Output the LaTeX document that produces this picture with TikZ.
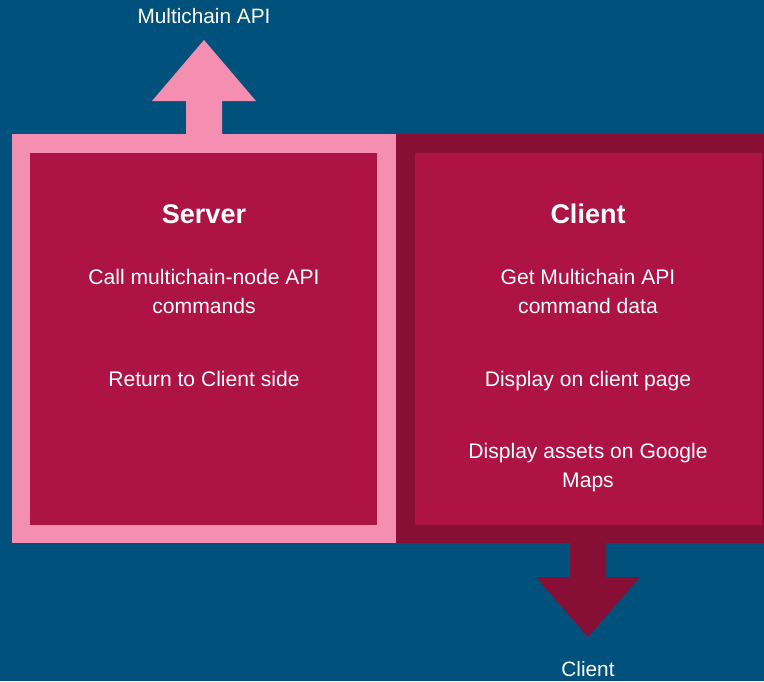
\documentclass[tikz,border=0pt]{standalone}
\usepackage{fontspec}
\setmainfont{Liberation Sans}
\definecolor{bgblue}{RGB}{0,82,124}
\definecolor{lightpink}{RGB}{244,143,177}
\definecolor{midpink}{RGB}{173,19,69}
\definecolor{darkpink}{RGB}{135,14,52}
\tikzset{
  body/.style={text=white, font=\fontsize{21.1}{24}\selectfont, anchor=base, inner sep=0pt},
  title/.style={text=white, font=\fontsize{27}{32}\bfseries\selectfont, anchor=base, inner sep=0pt},
  label/.style={text=white, font=\fontsize{20.8}{24}\selectfont, anchor=base, inner sep=0pt},
}
\begin{document}
\begin{tikzpicture}[x=1pt,y=-1pt]
\fill[bgblue] (0,0) rectangle (764,681);
\useasboundingbox (0,0) rectangle (764,681);
% up arrow
\fill[lightpink] (186,134) -- (186,101) -- (152,101) -- (204,40) -- (256,101) -- (222,101) -- (222,134) -- cycle;
% down arrow
\fill[darkpink] (570,543) -- (570,577) -- (536,577) -- (588,637) -- (640,577) -- (606,577) -- (606,543) -- cycle;
% server
\fill[lightpink] (12,134) rectangle (396,543);
\fill[midpink] (30,153) rectangle (377,525);
% client
\fill[darkpink] (396,134) rectangle (764,543);
\fill[midpink] (415,153) rectangle (762,525);
% labels
\node[label] (api) at (204,23) {Multichain API};
\node[label] (cl) at (588,676) {Client};
\node[title] (st) at (204,223) {Server};
\node[body] (s1) at (204,284) {Call multichain-node API};
\node[body] (s2) at (204,313) {commands};
\node[body] (s3) at (204,386) {Return to Client side};
\node[title] (ct) at (588,223) {Client};
\node[body] (c1) at (588,284) {Get Multichain API};
\node[body] (c2) at (588,313) {command data};
\node[body] (c3) at (588,386) {Display on client page};
\node[body] (c4) at (588,458) {Display assets on Google};
\node[body] (c5) at (588,487) {Maps};
\end{tikzpicture}
\end{document}
